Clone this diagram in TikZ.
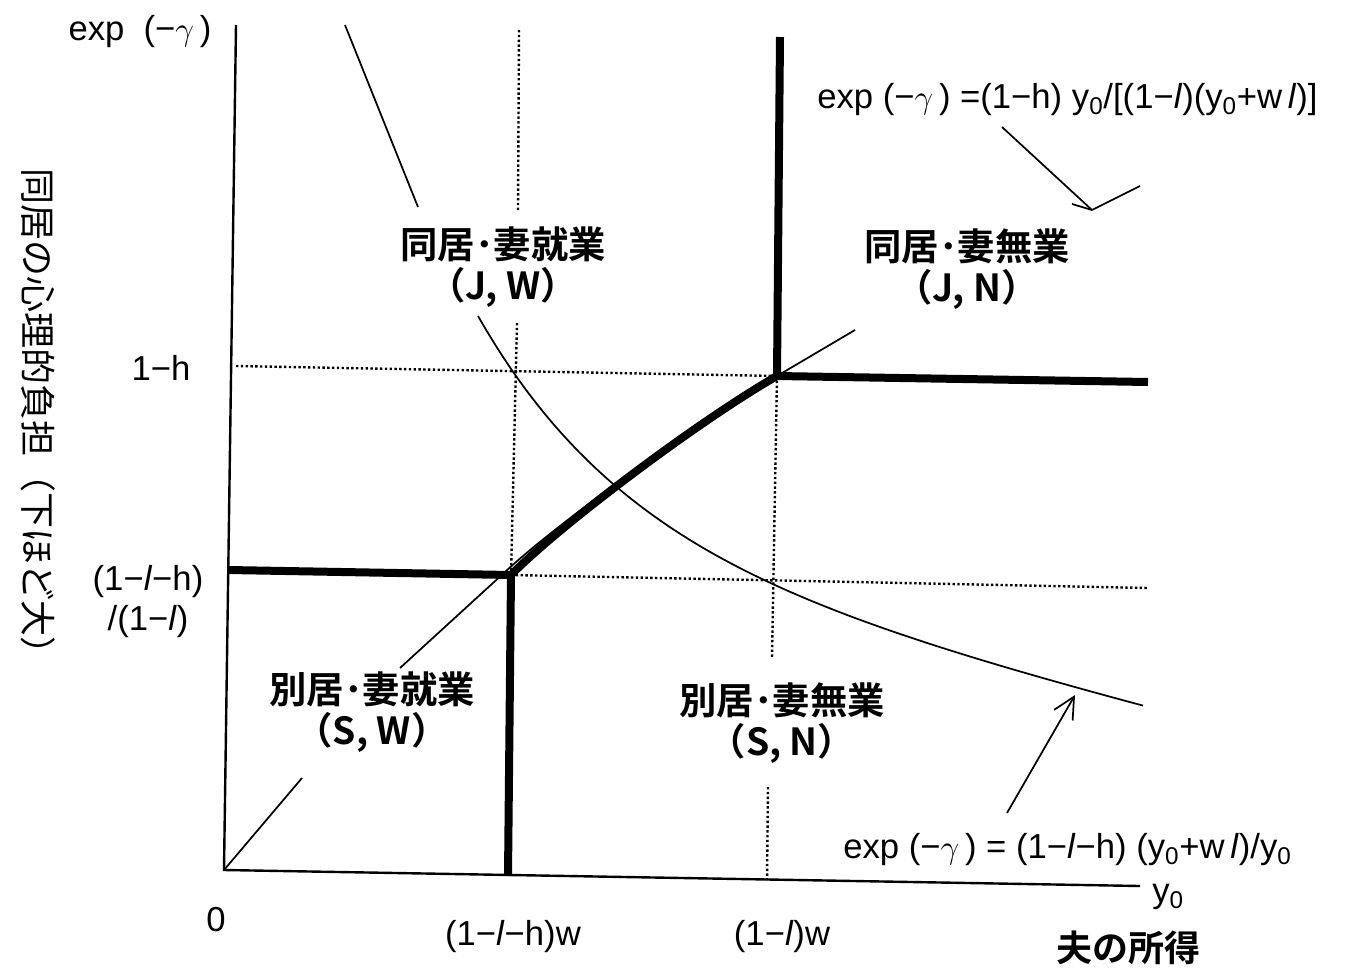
\documentclass[tikz,border=0pt]{standalone}
\usepackage{fontspec}
\setmainfont{Liberation Sans}
\newfontfamily\jpfont{Noto Sans CJK JP}[BoldFont={Noto Sans CJK JP Bold}]
\usetikzlibrary{arrows.meta}
\begin{document}
\begin{tikzpicture}[x=0.75pt,y=0.75pt,yscale=-1,xscale=1,
  axisline/.style={line width=1.8pt},
  boundary/.style={line width=6pt,line join=miter},
  thinline/.style={line width=1.3pt},
  guide/.style={line width=1.8pt,dash pattern=on 1.8pt off 1.8pt},
  region/.style={font=\jpfont\bfseries\fontsize{28}{31}\selectfont,align=center,inner sep=0pt},
  tick/.style={font=\fontsize{26}{30}\selectfont,align=center,inner sep=0pt},
  jplabel/.style={font=\jpfont\fontsize{27}{30}\selectfont,inner sep=0pt}]
        \useasboundingbox (0,0) rectangle (1347,972);
        \coordinate (O) at (224,870);
        \coordinate (ytop) at (236,25);
        \coordinate (xend) at (1140,886);
        \coordinate (kinkL) at (511,575);
        \coordinate (kinkR) at (777,376);
        \draw [axisline] (ytop) -- (O) -- (xend);
        \draw [guide] (236,366) -- (kinkR);
        \draw [guide] (kinkL) -- (1148,588);
        \draw [guide] (519,30) -- (518,210);
        \draw [guide] (517,323) -- (kinkL);
        \draw [guide] (kinkR) -- (772,658);
        \draw [guide] (768,787) -- (767,880);
        \draw [thinline] (345,25) -- (418,207);
        \draw [thinline] plot [domain=478:1143,samples=80] (\x,{316+0.25*(\x-478)+226*(1-exp(-(\x-478)/150))});
        \draw [thinline] (O) -- (302,778);
        \draw [thinline] (400,668) -- (505,572) .. controls (555,525) and (700,420) .. (kinkR) -- (855,330);
        \draw [boundary] (229,570) -- (kinkL) -- (508,876);
        \draw [boundary] (780,37) -- (kinkR) -- (1148,382);
        \draw [boundary] (kinkL) .. controls (560,525) and (700,420) .. (kinkR);
        \node [tick] (ylabtop) at (140,32) {exp\ \ (−$\gamma$\,)};
        \node [tick] (ylabh) at (161,368) {1−h};
        \node [tick] (ylabk) at (148,602) {(1−\textit{l}−h)\\/(1−\textit{l})};
        \node [tick] (zero) at (216,920) {0};
        \node [tick] (xlabk) at (513,937) {(1−\textit{l}−h)w};
        \node [tick] (xlabl) at (782,937) {(1−\textit{l})w};
        \node [tick] (xname) at (1168,897) {y\textsubscript{0}};
        \node [jplabel,font=\jpfont\bfseries\fontsize{27}{30}\selectfont] (xtitle) at (1128,948) {夫の所得};
        \node [jplabel,rotate=-90] (ytitle) at (38,420) {同居の心理的負担（下ほど大）};
        \node [region] (jw) at (503,267) {同居･妻就業\\（J, W）};
        \node [region] (jn) at (967,269) {同居･妻無業\\（J, N）};
        \node [region] (sw) at (372,712) {別居･妻就業\\（S, W）};
        \node [region] (sn) at (782,723) {別居･妻無業\\（S, N）};
        \node [tick,anchor=west] (upperform) at (817,100) {exp (−$\gamma$\,) =(1−h) y\textsubscript{0}/[(1−\textit{l})(y\textsubscript{0}+w\,\textit{l})]};
        \node [tick,anchor=west] (lowerform) at (843,850) {exp (−$\gamma$\,) = (1−\textit{l}−h)\ (y\textsubscript{0}+w\,\textit{l})/y\textsubscript{0}};
        \coordinate (tailA) at (1002,127);
        \coordinate (tipA) at (1092,210);
        \draw [thinline] (tailA) -- (tipA);
        \draw [thinline] (tipA) -- ++(-20,-6);
        \draw [thinline] (tipA) -- ++(48,-24);
        \coordinate (tailB) at (1007,813);
        \coordinate (tipB) at (1075,695);
        \draw [thinline,-{Straight Barb[length=16pt,width=16pt]}] (tailB) -- (tipB);
\end{tikzpicture}
\end{document}
